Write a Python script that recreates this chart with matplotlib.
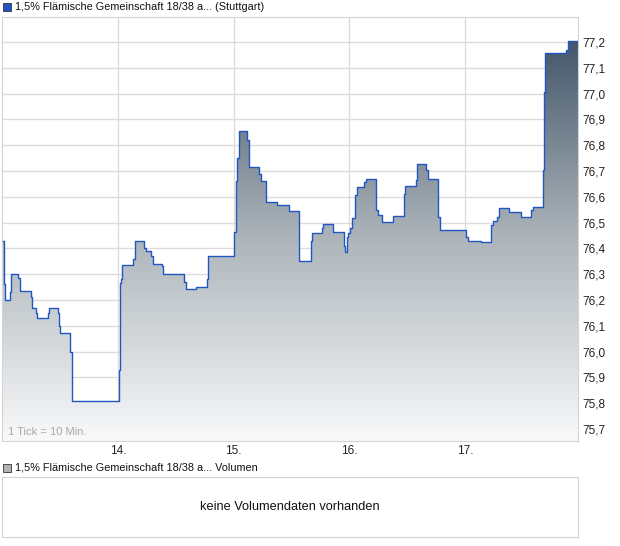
import numpy as np
import matplotlib
matplotlib.use('Agg')
import matplotlib.pyplot as plt
from matplotlib.colors import LinearSegmentedColormap
from matplotlib.ticker import FuncFormatter

plt.rcParams['font.family'] = ['Liberation Sans', 'DejaVu Sans']

# price steps: time in trading days (13.x .. 17.x), price
times = [13.002, 13.015, 13.023, 13.067, 13.075, 13.136, 13.153, 13.248, 13.257, 13.291,
         13.300, 13.395, 13.404, 13.484, 13.493, 13.499, 13.585, 13.600, 13.604, 14.009,
         14.017, 14.026, 14.035, 14.132, 14.147, 14.227, 14.242, 14.285, 14.302, 14.378,
         14.389, 14.573, 14.588, 14.674, 14.772, 14.781, 15.005, 15.017, 15.026, 15.048,
         15.115, 15.135, 15.221, 15.236, 15.277, 15.372, 15.475, 15.567, 15.665, 15.682,
         15.761, 15.775, 15.861, 15.956, 15.965, 15.979, 15.988, 16.005, 16.020, 16.048,
         16.063, 16.126, 16.143, 16.227, 16.247, 16.282, 16.374, 16.475, 16.483, 16.576,
         16.590, 16.665, 16.682, 16.768, 16.786, 17.008, 17.028, 17.135, 17.226, 17.243,
         17.278, 17.295, 17.382, 17.489, 17.575, 17.589, 17.676, 17.682, 17.693, 17.871,
         17.889, 17.978]
prices = [76.43, 76.26, 76.20, 76.23, 76.30, 76.285, 76.235, 76.21, 76.17, 76.15,
          76.13, 76.15, 76.17, 76.15, 76.10, 76.07, 76.00, 75.88, 75.81, 75.93,
          76.265, 76.28, 76.335, 76.357, 76.427, 76.40, 76.39, 76.37, 76.34, 76.33,
          76.30, 76.27, 76.243, 76.249, 76.28, 76.37, 76.465, 76.66, 76.75, 76.855,
          76.82, 76.715, 76.69, 76.66, 76.58, 76.567, 76.545, 76.35, 76.43, 76.458,
          76.478, 76.493, 76.462, 76.41, 76.387, 76.445, 76.46, 76.48, 76.516, 76.607,
          76.637, 76.659, 76.668, 76.549, 76.529, 76.501, 76.527, 76.611, 76.641, 76.665,
          76.726, 76.704, 76.67, 76.523, 76.471, 76.445, 76.429, 76.425, 76.49, 76.507,
          76.523, 76.558, 76.542, 76.523, 76.549, 76.562, 76.704, 77.007, 77.156, 77.169,
          77.205, 77.205]

day_ticks = [14, 15, 16, 17]
day_labels = ['14.', '15.', '16.', '17.']
price_ticks = [75.7, 75.8, 75.9, 76.0, 76.1, 76.2, 76.3, 76.4, 76.5, 76.6,
               76.7, 76.8, 76.9, 77.0, 77.1, 77.2]

title = '1,5% Flämische Gemeinschaft 18/38 a... (Stuttgart)'
vol_title = '1,5% Flämische Gemeinschaft 18/38 a... Volumen'

W, H = 620, 546
fig = plt.figure(figsize=(W/100, H/100), dpi=100)

ax = fig.add_axes([2/W, 1-441/H, 576/W, 424/H])
ymin, ymax = 75.653, 77.297
ax.set_xlim(12.997, 17.978)
ax.set_ylim(ymin, ymax)

# gradient fill under the step line
xs = np.repeat(times, 2)[1:]
ys = np.repeat(prices, 2)[:-1]
poly = ax.fill_between(xs, ys, ymin, color='none', lw=0)
cmap = LinearSegmentedColormap.from_list('g', ['#f9f9fa', '#aeb6bb', '#44566a'])
grad = np.linspace(0, 1, 256).reshape(-1, 1)
im = ax.imshow(grad, cmap=cmap, aspect='auto', origin='lower',
               extent=[12.997, 17.978, ymin, max(prices)], zorder=2)
im.set_clip_path(poly.get_paths()[0], transform=ax.transData)
ax.step(times, prices, where='post', color='#1f56c3', lw=1.0, zorder=3)

ax.set_xticks(day_ticks)
ax.set_xticklabels(day_labels)
ax.set_yticks(price_ticks)
ax.yaxis.set_major_formatter(FuncFormatter(lambda v, p: f'{v:.1f}'.replace('.', ',')))
ax.yaxis.tick_right()
ax.tick_params(length=0, labelsize=8.5, colors='#222222')
ax.tick_params(axis='y', pad=3)
ax.tick_params(axis='x', pad=3)
ax.grid(True, color='#dcdcdc', lw=1)
ax.set_axisbelow(True)
for s in ax.spines.values():
    s.set_color('#d4d4d4')

ax.text(0.011, 0.015, '1 Tick = 10 Min.', transform=ax.transAxes, fontsize=8,
        color='#a8a8a8', zorder=4)

# header
fig.patches.append(plt.Rectangle((3/W, 1-11/H), 8/W, 8/H, transform=fig.transFigure,
                                 facecolor='#1f56c3', edgecolor='#333333', lw=0.6))
fig.text(15/W, 1-7.5/H, title, fontsize=7.8, va='center', color='#111111')

# volume panel
fig.patches.append(plt.Rectangle((3/W, 1-472/H), 8/W, 8/H, transform=fig.transFigure,
                                 facecolor='#b4b4b4', edgecolor='#333333', lw=0.6))
fig.text(15/W, 1-468/H, vol_title, fontsize=7.8, va='center', color='#111111')
ax2 = fig.add_axes([2/W, 1-537/H, 576/W, 60/H])
ax2.set_xticks([])
ax2.set_yticks([])
for s in ax2.spines.values():
    s.set_color('#d4d4d4')
ax2.text(0.5, 0.5, 'keine Volumendaten vorhanden', transform=ax2.transAxes,
         ha='center', va='center', fontsize=9.2, color='#111111')

fig.savefig('out.png', dpi=100)
